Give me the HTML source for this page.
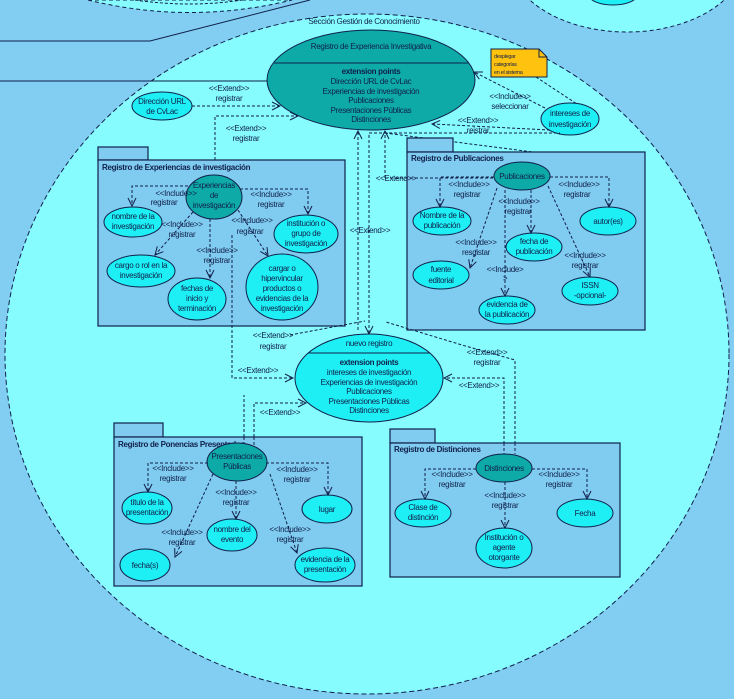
<!DOCTYPE html>
<html><head><meta charset="utf-8"><style>
html,body{margin:0;padding:0;background:#82cdf2;}
svg{display:block;font-family:"Liberation Sans",sans-serif;}
text{fill:#10204a;font-size:8px;text-anchor:middle;letter-spacing:-0.3px;}
.b{font-weight:bold;}
.l{text-anchor:start;}
.d{stroke:#10204a;stroke-width:1;stroke-dasharray:3 2;fill:none;}
.s{stroke:#10204a;stroke-width:1;fill:none;}
.pk{fill:#80cbf0;stroke:#10204a;stroke-width:1.2;}
.uc{fill:#1eeff5;stroke:#10204a;stroke-width:1;}
.dk{fill:#0eaaa8;stroke:#10204a;stroke-width:1;}
</style></head><body>
<svg width="734" height="699" viewBox="0 0 734 699" xmlns="http://www.w3.org/2000/svg">
<defs>
<marker id="a" markerWidth="10" markerHeight="10" refX="9" refY="5" orient="auto" markerUnits="userSpaceOnUse">
<path d="M1,1 L9,5 L1,9" fill="none" stroke="#10204a" stroke-width="1"/>
</marker>
</defs>
<rect width="734" height="699" fill="#82cdf2"/>
<path d="M88,0 Q190,25 292,0 Z" fill="#86fcff" stroke="#10204a" stroke-dasharray="4 3"/>
<path d="M135,0 Q190,8 242,0" class="d"/>
<path d="M0,41 L150,41 L310,0" class="s"/>
<ellipse cx="627" cy="-42" rx="118" ry="74" fill="#86fcff" stroke="#10204a" stroke-dasharray="4 3"/>
<ellipse cx="613" cy="-5" rx="24" ry="10" class="uc"/>
<ellipse cx="367" cy="354" rx="362" ry="340" fill="#86fcff" stroke="#10204a" stroke-dasharray="5 3"/>
<line x1="0" y1="81" x2="268" y2="81" class="s"/>
<text x="364" y="24">Sección Gestión de Conocimiento</text>

<ellipse cx="371" cy="80" rx="104" ry="50" class="dk"/>
<line x1="274" y1="63" x2="468" y2="63" class="s"/>
<text x="371" y="49">Registro de Experiencia Investigativa</text>
<text x="371" y="74" class="b">extension points</text>
<text x="371" y="84">Dirección URL de CvLac</text>
<text x="371" y="94">Experiencias de investigación</text>
<text x="371" y="103">Publicaciones</text>
<text x="371" y="113">Presentaciones Públicas</text>
<text x="371" y="122">Distinciones</text>

<path d="M491,49 L539,49 L547,57 L547,77 L491,77 Z" fill="#ffc20e" stroke="#10204a"/>
<path d="M539,49 L539,57 L547,57" class="s"/>
<text x="494" y="58" class="l" style="font-size:5.5px">desplegar</text>
<text x="494" y="66" class="l" style="font-size:5.5px">categorías</text>
<text x="494" y="74" class="l" style="font-size:5.5px">en el sistema</text>
<line x1="536" y1="77" x2="577" y2="104" class="d"/>

<ellipse cx="162" cy="106" rx="30" ry="14" class="uc"/>
<text x="162" y="104">Dirección URL</text><text x="162" y="114">de CvLac</text>
<line x1="192" y1="106" x2="280" y2="106" class="d" marker-end="url(#a)"/>
<text x="229" y="91">&lt;&lt;Extend&gt;&gt;</text><text x="229" y="101">registrar</text>

<path d="M215,185 L215,116 L298,116" class="d" marker-end="url(#a)"/>
<text x="246" y="131">&lt;&lt;Extend&gt;&gt;</text><text x="246" y="141">registrar</text>

<ellipse cx="570" cy="119" rx="29" ry="16" class="uc"/>
<text x="570" y="116">intereses de</text><text x="570" y="127">investigación</text>
<line x1="545" y1="108" x2="474" y2="72" class="d" marker-end="url(#a)"/>
<text x="510" y="99">&lt;&lt;Include&gt;&gt;</text><text x="510" y="109">seleccionar</text>
<line x1="550" y1="130" x2="432" y2="124" class="d" marker-end="url(#a)"/>
<text x="478" y="123">&lt;&lt;Extend&gt;&gt;</text><text x="478" y="133">reistrar</text>
<path d="M369,133 L560,133" class="d"/>
<path d="M385,133 L533,152 L533,162" class="d"/>

<line x1="358" y1="330" x2="358" y2="131" class="d" marker-end="url(#a)"/>
<line x1="385" y1="178" x2="385" y2="131" class="d" marker-end="url(#a)"/>
<line x1="369" y1="135" x2="369" y2="334" class="d" marker-end="url(#a)"/>
<text x="370" y="233">&lt;&lt;Extend&gt;&gt;</text>

<rect x="98" y="147" width="50" height="13" class="pk"/>
<rect x="98" y="160" width="247" height="166" class="pk"/>
<text x="102" y="170" class="l b">Registro de Experiencias de investigación</text>
<ellipse cx="214" cy="197" rx="28" ry="22" class="dk"/>
<text x="214" y="188">Experiencias</text><text x="214" y="198">de</text><text x="214" y="208">investigación</text>
<ellipse cx="133" cy="222" rx="29" ry="15" class="uc"/>
<text x="133" y="219">nombre de la</text><text x="133" y="229">investigación</text>
<ellipse cx="141" cy="271" rx="34" ry="16" class="uc"/>
<text x="141" y="268">cargo o rol en la</text><text x="141" y="278">investigación</text>
<ellipse cx="197" cy="299" rx="29" ry="21" class="uc"/>
<text x="197" y="291">fechas de</text><text x="197" y="301">inicio y</text><text x="197" y="311">terminación</text>
<ellipse cx="282" cy="287" rx="36" ry="33" class="uc"/>
<text x="282" y="271">cargar o</text><text x="282" y="281">hipervincular</text><text x="282" y="291">productos o</text><text x="282" y="301">evidencias de la</text><text x="282" y="311">investigación</text>
<ellipse cx="306" cy="234" rx="32" ry="19" class="uc"/>
<text x="306" y="226">institución o</text><text x="306" y="236">grupo de</text><text x="306" y="246">investigación</text>
<path d="M188,186 L132,186 L132,206" class="d" marker-end="url(#a)"/>
<text x="176" y="196">&lt;&lt;Include&gt;&gt;</text><text x="164" y="205">registrar</text>
<path d="M240,189 L308,189 L308,214" class="d" marker-end="url(#a)"/>
<text x="271" y="197">&lt;&lt;Include&gt;&gt;</text><text x="271" y="207">registrar</text>
<line x1="193" y1="212" x2="155" y2="255" class="d" marker-end="url(#a)"/>
<text x="182" y="227">&lt;&lt;Include&gt;&gt;</text><text x="182" y="237">registrar</text>
<line x1="210" y1="219" x2="210" y2="278" class="d" marker-end="url(#a)"/>
<text x="217" y="253">&lt;&lt;Include&gt;&gt;</text><text x="217" y="263">registrar</text>
<line x1="238" y1="210" x2="268" y2="256" class="d" marker-end="url(#a)"/>
<text x="252" y="223">&lt;&lt;Include&gt;&gt;</text><text x="250" y="234">registrar</text>

<rect x="407" y="138" width="46" height="14" class="pk"/>
<rect x="407" y="152" width="238" height="178" class="pk"/>
<text x="411" y="161" class="l b">Registro de Publicaciones</text>
<line x1="385" y1="178" x2="494" y2="178" class="d"/>
<text x="396" y="181">&lt;&lt;Extend&gt;&gt;</text>
<ellipse cx="522" cy="176" rx="28" ry="14" class="dk"/>
<text x="522" y="179">Publicaciones</text>
<ellipse cx="442" cy="221" rx="29" ry="14" class="uc"/>
<text x="442" y="218">Nombre de la</text><text x="442" y="228">publicación</text>
<ellipse cx="608" cy="221" rx="28" ry="14" class="uc"/>
<text x="608" y="224">autor(es)</text>
<ellipse cx="534" cy="247" rx="28" ry="14" class="uc"/>
<text x="534" y="244">fecha de</text><text x="534" y="254">publicación</text>
<ellipse cx="441" cy="275" rx="28" ry="14" class="uc"/>
<text x="441" y="272">fuente</text><text x="441" y="283">editorial</text>
<ellipse cx="590" cy="291" rx="28" ry="14" class="uc"/>
<text x="590" y="288">ISSN</text><text x="590" y="298">-opcional-</text>
<ellipse cx="507" cy="310" rx="28" ry="14" class="uc"/>
<text x="507" y="307">evidencia de</text><text x="507" y="317">la publicación</text>
<path d="M494,177 L440,177 L440,207" class="d" marker-end="url(#a)"/>
<text x="469" y="187">&lt;&lt;Include&gt;&gt;</text><text x="467" y="197">registrar</text>
<path d="M550,177 L609,177 L609,207" class="d" marker-end="url(#a)"/>
<text x="579" y="187">&lt;&lt;Include&gt;&gt;</text><text x="577" y="197">registrar</text>
<line x1="531" y1="190" x2="531" y2="233" class="d" marker-end="url(#a)"/>
<text x="519" y="204">&lt;&lt;Include&gt;&gt;</text><text x="518" y="214">registrar</text>
<line x1="497" y1="188" x2="470" y2="268" class="d" marker-end="url(#a)"/>
<text x="476" y="245">&lt;&lt;Include&gt;&gt;</text><text x="476" y="255">resgistar</text>
<line x1="505" y1="190" x2="505" y2="296" class="d" marker-end="url(#a)"/>
<text x="505" y="272">&lt;&lt;Include&gt;</text><text x="505" y="281">&gt;</text>
<line x1="548" y1="186" x2="590" y2="277" class="d" marker-end="url(#a)"/>
<text x="585" y="258">&lt;&lt;Include&gt;&gt;</text><text x="585" y="268">registrar</text>

<ellipse cx="369" cy="378" rx="74" ry="44" class="uc"/>
<line x1="308" y1="353" x2="430" y2="353" class="s"/>
<text x="369" y="346">nuevo registro</text>
<text x="369" y="365" class="b">extension points</text>
<text x="369" y="375">intereses de investigación</text>
<text x="369" y="385">Experiencias de investigación</text>
<text x="369" y="394">Publicaciones</text>
<text x="369" y="404">Presentaciones Públicas</text>
<text x="369" y="413">Distinciones</text>

<path d="M232,235 L232,378 L293,378" class="d" marker-end="url(#a)"/>
<text x="258" y="373">&lt;&lt;Extend&gt;&gt;</text>
<path d="M290,335 L365,321" class="d"/>
<text x="273" y="338">&lt;&lt;Extend&gt;&gt;</text><text x="273" y="349">registrar</text>
<path d="M254,437 L254,403 L306,403" class="d" marker-end="url(#a)"/>
<path d="M244,437 L244,395" class="d"/>
<text x="280" y="415">&lt;&lt;Extend&gt;&gt;</text>
<path d="M504,454 L504,378 L444,378" class="d" marker-end="url(#a)"/>
<text x="479" y="388">&lt;&lt;Extend&gt;&gt;</text>
<path d="M515,454 L515,360 L462,345 L386,322" class="d"/>
<text x="487" y="355">&lt;&lt;Extend&gt;&gt;</text><text x="487" y="365">registrar</text>

<rect x="114" y="423" width="49" height="14" class="pk"/>
<rect x="114" y="437" width="248" height="149" class="pk"/>
<path d="M244,437 L244,447 M254,437 L254,447" class="d"/>
<text x="118" y="447" class="l b">Registro de Ponencias Presentadas</text>
<ellipse cx="237" cy="462" rx="30" ry="19" class="dk"/>
<text x="237" y="459">Presentaciones</text><text x="237" y="469">Públicas</text>
<ellipse cx="147" cy="508" rx="25" ry="16" class="uc"/>
<text x="147" y="505">título de la</text><text x="147" y="515">presentación</text>
<ellipse cx="232" cy="535" rx="25" ry="16" class="uc"/>
<text x="232" y="532">nombre del</text><text x="232" y="542">evento</text>
<ellipse cx="327" cy="509" rx="25" ry="14" class="uc"/>
<text x="327" y="512">lugar</text>
<ellipse cx="145" cy="565" rx="25" ry="16" class="uc"/>
<text x="145" y="568">fecha(s)</text>
<ellipse cx="325" cy="565" rx="30" ry="17" class="uc"/>
<text x="325" y="562">evidencia de la</text><text x="325" y="572">presentación</text>
<path d="M208,463 L148,463 L148,492" class="d" marker-end="url(#a)"/>
<text x="173" y="471">&lt;&lt;Include&gt;&gt;</text><text x="173" y="481">registrar</text>
<path d="M266,463 L328,463 L328,495" class="d" marker-end="url(#a)"/>
<text x="297" y="472">&lt;&lt;Include&gt;&gt;</text><text x="297" y="482">registrar</text>
<line x1="236" y1="481" x2="236" y2="519" class="d" marker-end="url(#a)"/>
<text x="236" y="495">&lt;&lt;Include&gt;&gt;</text><text x="236" y="505">registrar</text>
<line x1="213" y1="474" x2="175" y2="557" class="d" marker-end="url(#a)"/>
<text x="182" y="535">&lt;&lt;Include&gt;&gt;</text><text x="182" y="545">registrar</text>
<line x1="270" y1="474" x2="297" y2="553" class="d" marker-end="url(#a)"/>
<text x="290" y="532">&lt;&lt;Include&gt;&gt;</text><text x="290" y="542">registrar</text>

<rect x="390" y="429" width="45" height="14" class="pk"/>
<rect x="390" y="443" width="230" height="134" class="pk"/>
<path d="M504,443 L504,454 M515,443 L515,454" class="d"/>
<text x="394" y="452" class="l b">Registro de Distinciones</text>
<ellipse cx="504" cy="468" rx="28" ry="14" class="dk"/>
<text x="504" y="471">Distinciones</text>
<ellipse cx="423" cy="513" rx="28" ry="14" class="uc"/>
<text x="423" y="510">Clase de</text><text x="423" y="520">distinción</text>
<ellipse cx="504" cy="548" rx="28" ry="20" class="uc"/>
<text x="504" y="540">Institución o</text><text x="504" y="550">agente</text><text x="504" y="560">otorgante</text>
<ellipse cx="585" cy="513" rx="28" ry="14" class="uc"/>
<text x="585" y="516">Fecha</text>
<path d="M476,469 L425,469 L425,499" class="d" marker-end="url(#a)"/>
<text x="452" y="477">&lt;&lt;Include&gt;&gt;</text><text x="452" y="487">registrar</text>
<path d="M532,469 L587,469 L587,499" class="d" marker-end="url(#a)"/>
<text x="559" y="477">&lt;&lt;Include&gt;&gt;</text><text x="559" y="487">registrar</text>
<line x1="505" y1="482" x2="505" y2="528" class="d" marker-end="url(#a)"/>
<text x="505" y="498">&lt;&lt;Include&gt;&gt;</text><text x="505" y="508">registrar</text>
</svg>
</body></html>
